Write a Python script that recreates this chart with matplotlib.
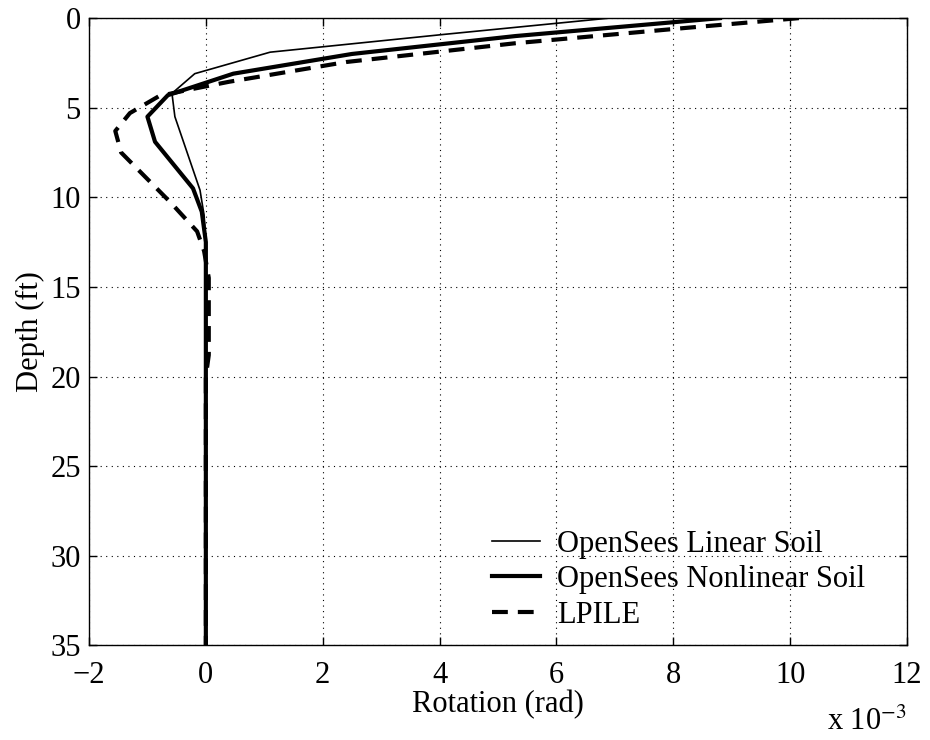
import matplotlib.pyplot as plt

# rotation values in units of 1e-3 rad, depth in ft
lin_rot = [6.9, 4.1, 1.1, -0.19, -0.58, -0.53, -0.10, -0.03, 0.0, 0.0]
lin_depth = [0, 0.9, 1.9, 3.1, 4.2, 5.5, 9.6, 11.0, 12.5, 35]

nonlin_rot = [8.8, 5.3, 2.5, 0.47, -0.65, -1.0, -0.87, -0.22, -0.07, 0.0, 0.0]
nonlin_depth = [0, 1.0, 2.0, 3.1, 4.3, 5.5, 6.9, 9.5, 10.8, 12.5, 35]

lpile_rot = [10.15, 8.2, 5.3, 2.4, 0.4, -0.3, -0.8, -1.3, -1.55, -1.45, -0.6,
             -0.15, -0.03, 0.05, 0.05, 0.0, 0.0]
lpile_depth = [0, 0.55, 1.4, 2.45, 3.55, 4.0, 4.35, 5.3, 6.3, 7.5, 10.3,
               11.9, 13.0, 14.5, 18.8, 20.0, 35]

xticks = [-2, 0, 2, 4, 6, 8, 10, 12]
yticks = [0, 5, 10, 15, 20, 25, 30, 35]

plt.rcParams['font.family'] = ['Liberation Serif', 'DejaVu Serif']
plt.rcParams['mathtext.fontset'] = 'stix'

fig = plt.figure(figsize=(9.3, 7.4), dpi=100)
ax = fig.add_axes([0.0957, 0.128, 0.8795, 0.8475])

ax.plot(lin_rot, lin_depth, 'k-', lw=1.2, label='OpenSees Linear Soil')
ax.plot(nonlin_rot, nonlin_depth, 'k-', lw=3.0, label='OpenSees Nonlinear Soil')
ax.plot(lpile_rot, lpile_depth, 'k--', lw=3.0, dashes=(3.8, 2.4), label='LPILE')

ax.set_xlim(-2, 12)
ax.set_ylim(35, 0)
ax.set_xticks(xticks)
ax.set_yticks(yticks)
ax.set_xticklabels([str(t).replace('-', '\u2212') for t in xticks])
ax.tick_params(direction='in', top=True, right=True, labelsize=22, length=6, width=1)
ax.tick_params(axis='x', pad=11)
ax.tick_params(axis='y', pad=6)
ax.grid(True, color='k', linestyle=(0, (1, 4)), linewidth=0.8)
for s in ax.spines.values():
    s.set_linewidth(1.0)

ax.set_xlabel('Rotation (rad)', fontsize=22, labelpad=0)
ax.set_ylabel('Depth (ft)', fontsize=22, labelpad=4)
fig.text(0.975, 0.013, 'x 10$^{\u22123}$', fontsize=22, ha='right')

ax.legend(loc='lower left', frameon=False, fontsize=22, handlelength=1.57,
          handletextpad=0.55, labelspacing=0.21, borderaxespad=0, borderpad=0,
          bbox_to_anchor=(0.493, 0.025))

fig.savefig('out.png', dpi=100)
